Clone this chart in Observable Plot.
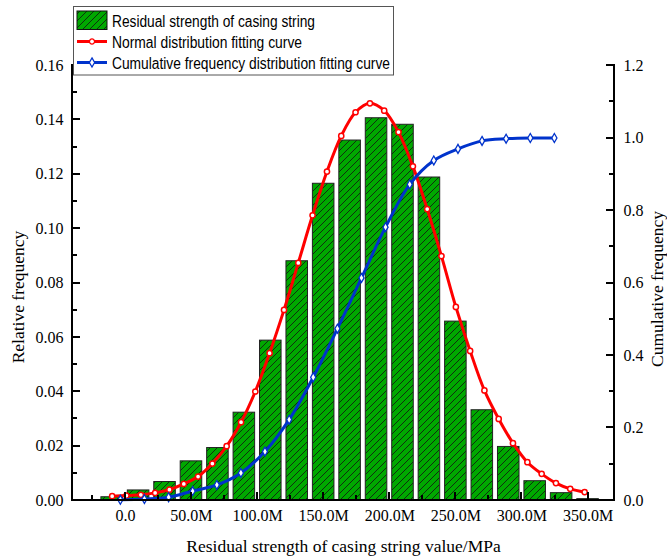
<!DOCTYPE html>
<html>
<head>
<meta charset="utf-8">
<script src="https://cdn.jsdelivr.net/npm/d3@7"></script>
<script src="https://cdn.jsdelivr.net/npm/@observablehq/plot@0.6"></script>
<style>
  html, body { margin: 0; padding: 0; background: #fff; }
  #chart { position: relative; width: 667px; height: 558px; }
  #chart svg { display: block; }
  #legend { position: absolute; left: 0; top: 0; }
</style>
</head>
<body>
<div id="chart"></div>
<script>
// Histogram bins (bin centres, MPa in millions) and their relative frequency
const binCenters = [-10, 10, 30, 50, 70, 90, 110, 130, 150, 170, 190, 210, 230, 250, 270, 290, 310, 330, 350];
const relFreq = [0.0012, 0.0037, 0.0068, 0.0144, 0.0193, 0.0323, 0.0588, 0.0880, 0.1165, 0.1324,
                 0.1406, 0.1382, 0.1188, 0.0658, 0.0332, 0.0197, 0.0071, 0.0027, 0.0005];

// Normal distribution fitting curve (sample points)
const normalX = [-10.0, 0.8, 11.7, 22.5, 33.3, 44.2, 55.0, 65.8, 76.6, 87.5, 98.3, 109.1, 120.0, 130.8,
                 141.6, 152.5, 163.3, 174.1, 185.0, 195.8, 206.6, 217.5, 228.3, 239.1, 250.0, 260.8,
                 271.6, 282.4, 293.2, 304.1, 314.9, 325.7, 336.5, 347.4];
const normalY = [0.0016, 0.0018, 0.0021, 0.0028, 0.0040, 0.0061, 0.0088, 0.0136, 0.0200, 0.0288, 0.0401,
                 0.0542, 0.0701, 0.0874, 0.1049, 0.1210, 0.1341, 0.1428, 0.1461, 0.1434, 0.1355, 0.1229,
                 0.1072, 0.0899, 0.0712, 0.0550, 0.0405, 0.0300, 0.0211, 0.0141, 0.0098, 0.0064, 0.0043, 0.0031];

// Cumulative frequency distribution fitting curve (sample points)
const cumX = [-3.8, 14.4, 32.7, 50.9, 69.2, 87.4, 105.6, 123.9, 142.1, 160.4, 178.6, 196.8,
              215.1, 233.3, 251.6, 269.8, 288.0, 306.3, 324.5];
const cumY = [0.002, 0.004, 0.009, 0.026, 0.043, 0.076, 0.135, 0.223, 0.340, 0.474, 0.614, 0.754,
              0.872, 0.938, 0.970, 0.992, 0.998, 1.000, 1.000];

// Axis ticks
const xTicks = [0, 50, 100, 150, 200, 250, 300, 350];
const xTickLabels = ["0.0", "50.0M", "100.0M", "150.0M", "200.0M", "250.0M", "300.0M", "350.0M"];
const xMinorTicks = [-25, 25, 75, 125, 175, 225, 275, 325];
const leftTicks = [0, 0.02, 0.04, 0.06, 0.08, 0.10, 0.12, 0.14, 0.16];
const leftMinorTicks = [0.01, 0.03, 0.05, 0.07, 0.09, 0.11, 0.13, 0.15];
const rightTicks = [0, 0.2, 0.4, 0.6, 0.8, 1.0, 1.2];
const rightMinorTicks = [0.1, 0.3, 0.5, 0.7, 0.9, 1.1];

const W = 667, H = 558, ML = 72, MR = 53, MT = 65, MB = 58;
const X0 = -40, X1 = 370, YMAX = 0.16, CUMMAX = 1.2;
const k = YMAX / CUMMAX;                     // right axis -> left axis units
const halfBar = 8.15;

const bars = binCenters.map((c, i) => ({c, v: relFreq[i]}));
const normal = normalX.map((x, i) => ({x, y: normalY[i]}));
const cum = cumX.map((x, i) => ({x, y: cumY[i] * k}));
const labelOf = new Map(xTicks.map((t, i) => [t, xTickLabels[i]]));

const green = "#00a800", red = "#ff0000", blue = "#0033cc";
const serif = "'Liberation Serif', 'Times New Roman', serif";

const plot = Plot.plot({
  width: W, height: H,
  marginLeft: ML, marginRight: MR, marginTop: MT, marginBottom: MB,
  style: {fontFamily: serif, fontSize: "16px", color: "#000", background: "#fff"},
  x: {domain: [X0, X1]},
  y: {domain: [0, YMAX]},
  marks: [
    Plot.rectY(bars, {x1: d => d.c - halfBar, x2: d => d.c + halfBar, y: "v",
      fill: "url(#hatch)", stroke: "#222", strokeWidth: 1}),
    Plot.line(normal, {x: "x", y: "y", stroke: red, strokeWidth: 3, curve: "catmull-rom"}),
    Plot.dot(normal, {x: "x", y: "y", r: 2.6, fill: "#fff", stroke: red, strokeWidth: 1.5}),
    Plot.line(cum, {x: "x", y: "y", stroke: blue, strokeWidth: 3, curve: "catmull-rom"}),
    Plot.dot(cum, {x: "x", y: "y", symbol: "diamond", r: 2.7, fill: "#fff", stroke: blue, strokeWidth: 1.3}),

    // tick labels
    Plot.axisX(xTicks, {tickSize: 0, tickPadding: 9, tickFormat: d => labelOf.get(d), label: null, fontSize: 16}),
    Plot.axisY(leftTicks, {anchor: "left", tickSize: 0, tickPadding: 9, tickFormat: d3.format(".2f"), label: null, fontSize: 16}),
    Plot.axisY(rightTicks.map(t => t * k), {anchor: "right", tickSize: 0, tickPadding: 9,
      tickFormat: d => (d / k).toFixed(1), label: null, fontSize: 16}),

    // axis titles
    Plot.text(["Residual strength of casing string value/MPa"],
      {frameAnchor: "bottom", textAnchor: "middle", lineAnchor: "middle", dy: 46, fontSize: 17.5}),
    Plot.text(["Relative frequency"],
      {frameAnchor: "left", textAnchor: "middle", lineAnchor: "middle", dx: -54, dy: 14, rotate: -90, fontSize: 17.5}),
    Plot.text(["Cumulative frequency"],
      {frameAnchor: "right", textAnchor: "middle", lineAnchor: "middle", dx: 43, dy: 6, rotate: -90, fontSize: 17.5})
  ]
});

// hatched green fill used by the bars
const ns = "http://www.w3.org/2000/svg";
function hatchDefs(id) {
  const defs = document.createElementNS(ns, "defs");
  defs.innerHTML =
    `<pattern id="${id}" patternUnits="userSpaceOnUse" width="7" height="7">` +
    `<rect width="7" height="7" fill="${green}"/>` +
    `<path d="M-1,1 L1,-1 M0,7 L7,0 M6,8 L8,6" stroke="#111" stroke-width="0.8"/>` +
    `</pattern>`;
  return defs;
}
plot.insertBefore(hatchDefs("hatch"), plot.firstChild);

// axis lines and inward ticks as solid filled bars, placed with the plot's own scales
const sx = plot.scale("x"), sy = plot.scale("y");
const px = v => Math.round(sx.apply(v)), py = v => Math.round(sy.apply(v));
const axes = d3.select(plot).append("g")
  .attr("fill", "#000").attr("stroke", "none").attr("shape-rendering", "crispEdges");
const xl = px(X0), xr = px(X1), yb = py(0), yt = py(YMAX);
const box = (x, y, w, h) => axes.append("rect").attr("x", x).attr("y", y).attr("width", w).attr("height", h);
box(xl - 1, yt - 1, 2, yb - yt + 2);          // left axis
box(xr - 1, yt - 1, 2, yb - yt + 2);          // right axis
box(xl - 1, yb - 1, xr - xl + 2, 2);          // bottom axis
leftTicks.forEach(t => box(xl, py(t) - 1, 8, 2));
leftMinorTicks.forEach(t => box(xl, py(t) - 1, 5, 2));
rightTicks.forEach(t => box(xr - 8, py(t * k) - 1, 8, 2));
rightMinorTicks.forEach(t => box(xr - 5, py(t * k) - 1, 5, 2));
xTicks.forEach(t => box(px(t) - 1, yb - 8, 2, 8));
xMinorTicks.forEach(t => box(px(t) - 1, yb - 5, 2, 5));

const chart = document.getElementById("chart");
chart.appendChild(plot);

// legend box drawn over the top of the plot area
const legendItems = [
  {label: "Residual strength of casing string", kind: "bar", width: 203},
  {label: "Normal distribution fitting curve", kind: "line", color: red, symbol: d3.symbolCircle, width: 190},
  {label: "Cumulative frequency distribution fitting curve", kind: "line", color: blue, symbol: d3.symbolDiamond, width: 278}
];
const legend = d3.create("svg")
  .attr("id", "legend")
  .attr("width", W).attr("height", 90)
  .style("overflow", "visible");
legend.node().appendChild(hatchDefs("hatch-legend"));
legend.append("rect")
  .attr("x", 73.5).attr("y", 6.5).attr("width", 320).attr("height", 68.5)
  .attr("fill", "#fff").attr("stroke", "#555").attr("stroke-width", 1);
legendItems.forEach((item, i) => {
  const cy = 20.5 + i * 21;
  const g = legend.append("g");
  if (item.kind === "bar") {
    g.append("rect").attr("x", 77).attr("y", cy - 9.5).attr("width", 30).attr("height", 18.5)
      .attr("fill", "url(#hatch-legend)").attr("stroke", "#111").attr("stroke-width", 1);
  } else {
    g.append("line").attr("x1", 77).attr("x2", 107).attr("y1", cy).attr("y2", cy)
      .attr("stroke", item.color).attr("stroke-width", 3);
    g.append("path").attr("transform", `translate(92,${cy})`)
      .attr("d", d3.symbol(item.symbol, item.symbol === d3.symbolCircle ? 21 : 24)())
      .attr("fill", "#fff").attr("stroke", item.color).attr("stroke-width", 1.3);
  }
  g.append("text")
    .attr("x", 112).attr("y", cy + 6)
    .attr("font-family", "'Liberation Sans', Arial, sans-serif")
    .attr("font-size", 16)
    .attr("textLength", item.width).attr("lengthAdjust", "spacingAndGlyphs")
    .text(item.label);
});
chart.appendChild(legend.node());
</script>
</body>
</html>
